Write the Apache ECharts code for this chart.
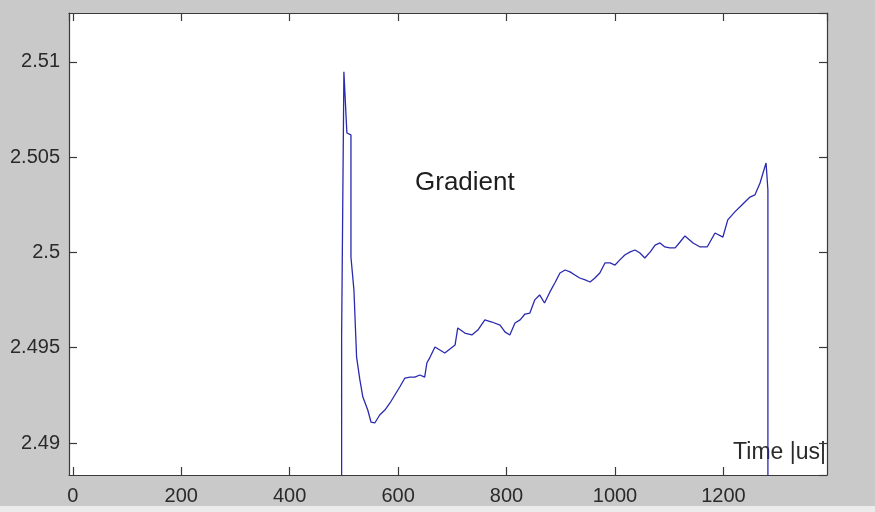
<!DOCTYPE html>
<html>
<head>
<meta charset="utf-8">
<script src="https://cdn.jsdelivr.net/npm/echarts@6/dist/echarts.min.js"></script>
<style>
html,body{margin:0;padding:0;background:#c9c9c9;}
#chart{width:875px;height:512px;}
</style>
</head>
<body>
<div id="chart"></div>
<script>
// Time axis values (us)
var timeValues = [
  495.8, 495.8, 500, 505.5, 513, 513, 518.5, 523.4, 529.5, 535, 544, 550, 557, 566, 575.6,
  585, 594, 603, 612.5, 622, 631, 640, 649, 653, 659, 668, 677, 686, 695.6, 705,
  710, 723, 736, 747, 760, 773, 788, 797, 806, 815.5, 825, 834, 843, 852, 861,
  870, 880, 889, 898.5, 908, 917, 926, 935, 945, 954, 963, 972, 981.5, 991, 1000,
  1009, 1018, 1028, 1037, 1046, 1055, 1065, 1074, 1083, 1092, 1101, 1111, 1120, 1129, 1144,
  1157, 1170, 1184.5, 1199, 1208, 1221, 1234, 1249, 1258, 1267.5, 1273, 1278.6, 1282, 1282
];
// Gradient signal values
var gradientValues = [
  2.480, 2.49567, 2.50948, 2.50627, 2.50617, 2.49976, 2.49803, 2.49451, 2.49331, 2.49241, 2.49173, 2.49110, 2.49105, 2.49147, 2.49173,
  2.49210, 2.49252, 2.49294, 2.49341, 2.49346, 2.49346, 2.49357, 2.49346, 2.49420, 2.49451, 2.49504, 2.49488, 2.49472, 2.49493, 2.49514,
  2.49604, 2.49577, 2.49567, 2.49593, 2.49646, 2.49635, 2.49619, 2.49583, 2.49567, 2.49630, 2.49646, 2.49677, 2.49682, 2.49751, 2.49777,
  2.49735, 2.49793, 2.49840, 2.49892, 2.49908, 2.49898, 2.49882, 2.49866, 2.49856, 2.49845, 2.49866, 2.49892, 2.49945, 2.49945, 2.49934,
  2.49961, 2.49987, 2.50003, 2.50013, 2.49997, 2.49971, 2.50003, 2.50039, 2.50050, 2.50029, 2.50024, 2.50024, 2.50055, 2.50087, 2.50050,
  2.50029, 2.50029, 2.50102, 2.50081, 2.50171, 2.50213, 2.50249, 2.50291, 2.50302, 2.50365, 2.50417, 2.50470, 2.50328, 2.480
];
var xTickLabels = ['0', '200', '400', '600', '800', '1000', '1200'];
var yTickLabels = ['2.49', '2.495', '2.5', '2.505', '2.51'];
var seriesName = 'Gradient';
var xAxisName = 'Time |us|';

var points = timeValues.map(function (t, i) { return [t, gradientValues[i]]; });

var tickFont = "'Liberation Sans', Arial, sans-serif";
var frameLine = { show: true, onZero: false, lineStyle: { color: '#3a3a3a', width: 1.2 } };
var tickStyle = { show: true, inside: true, length: 8, lineStyle: { color: '#3a3a3a', width: 1.2 } };
var xMin = -7, xMax = 1391, yMin = 2.48832, yMax = 2.51257;

function fmt(list) {
  return function (v) {
    var s = String(+(+v).toFixed(4));
    return list.indexOf(s) >= 0 ? s : '';
  };
}

var chart = echarts.init(document.getElementById('chart'));
chart.setOption({
  backgroundColor: '#c9c9c9',
  animation: false,
  grid: { left: 69, top: 13, right: 48, bottom: 37, show: true, backgroundColor: '#ffffff', borderWidth: 0 },
  xAxis: [{
    type: 'value', min: xMin, max: xMax, splitNumber: 7,
    axisLine: frameLine, axisTick: tickStyle, splitLine: { show: false },
    axisLabel: { show: true, margin: 11, color: '#2a2a2a', fontFamily: tickFont, fontSize: 20,
      showMinLabel: false, showMaxLabel: false, formatter: fmt(xTickLabels) }
  }, {
    type: 'value', position: 'top', min: xMin, max: xMax, splitNumber: 7,
    axisLine: frameLine, axisTick: tickStyle, splitLine: { show: false }, axisLabel: { show: false }
  }],
  yAxis: [{
    type: 'value', min: yMin, max: yMax, splitNumber: 5,
    axisLine: frameLine, axisTick: tickStyle, splitLine: { show: false },
    axisLabel: { show: true, margin: 9, color: '#2a2a2a', fontFamily: tickFont, fontSize: 20,
      showMinLabel: false, showMaxLabel: false, formatter: fmt(yTickLabels) }
  }, {
    type: 'value', position: 'right', min: yMin, max: yMax, splitNumber: 5,
    axisLine: frameLine, axisTick: tickStyle, splitLine: { show: false }, axisLabel: { show: false }
  }],
  series: [{
    name: seriesName, type: 'line', data: points, showSymbol: false, clip: true,
    lineStyle: { color: '#2a2ab0', width: 1.3 }
  }],
  graphic: [
    { type: 'text', left: 415, top: 170, style: { text: seriesName, fill: '#1e1e1e',
      font: "26px 'Liberation Sans', sans-serif" } },
    { type: 'text', right: 49, top: 441, style: { text: xAxisName, fill: '#2a2a2a',
      font: "23px 'Liberation Sans', sans-serif" } },
    { type: 'rect', left: 0, top: 506, shape: { width: 875, height: 6 }, style: { fill: '#ececec' } }
  ]
});
</script>
</body>
</html>
